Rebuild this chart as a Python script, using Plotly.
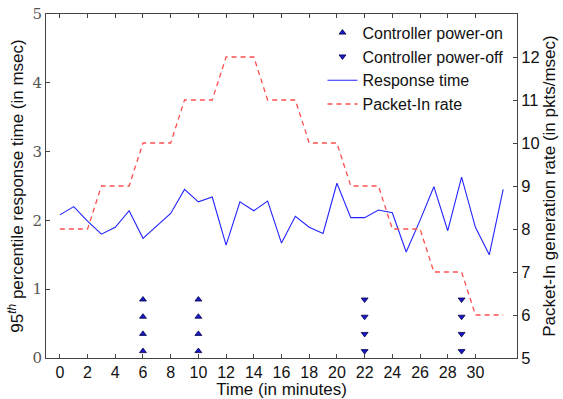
import plotly.graph_objects as go

# ---- data ----
minutes = list(range(0, 33))
response_time = [2.08, 2.20, 1.99, 1.80, 1.90, 2.14, 1.74, 1.92, 2.10, 2.45,
                 2.27, 2.34, 1.64, 2.27, 2.14, 2.28, 1.67, 2.06, 1.90, 1.81,
                 2.54, 2.04, 2.04, 2.15, 2.11, 1.54, 2.00, 2.49, 1.85, 2.63,
                 1.90, 1.50, 2.45]
packet_in_rate = [8, 8, 8, 9, 9, 9, 10, 10, 10, 11, 11, 11, 12, 12, 12, 11, 11,
                  11, 10, 10, 10, 9, 9, 9, 8, 8, 8, 7, 7, 7, 6, 6, 6]
power_on_times = [6, 10]
power_off_times = [22, 29]
marker_levels = [0.1, 0.35, 0.6, 0.85]
x_ticks = list(range(0, 31, 2))
left_ticks = [0, 1, 2, 3, 4, 5]
right_ticks = [5, 6, 7, 8, 9, 10, 11, 12]

on_x = [t for t in power_on_times for _ in marker_levels]
on_y = [v for _ in power_on_times for v in marker_levels]
off_x = [t for t in power_off_times for _ in marker_levels]
off_y = [v for _ in power_off_times for v in marker_levels]

sans = "Liberation Sans, Arial, sans-serif"
serif = "DejaVu Serif, serif"
ink = "#111111"

fig = go.Figure()
fig.add_trace(go.Scatter(
    x=on_x, y=on_y, mode="markers", name="Controller power-on",
    marker=dict(symbol="triangle-up", size=6, color="#1a1acc",
                line=dict(color="#000044", width=0.8))))
fig.add_trace(go.Scatter(
    x=off_x, y=off_y, mode="markers", name="Controller power-off",
    marker=dict(symbol="triangle-down", size=6, color="#1a1acc",
                line=dict(color="#000044", width=0.8))))
fig.add_trace(go.Scatter(
    x=minutes, y=response_time, mode="lines", name="Response time",
    line=dict(color="#2323ff", width=1.1)))
fig.add_trace(go.Scatter(
    x=minutes, y=packet_in_rate, mode="lines", name="Packet-In rate",
    yaxis="y2", line=dict(color="#ff4f4f", width=1.3, dash="5px,4px")))

axis_line = "#444444"
fig.update_layout(
    width=563, height=399,
    margin=dict(l=46, r=46, t=14, b=41),
    paper_bgcolor="white", plot_bgcolor="white",
    showlegend=True,
    legend=dict(x=0.587, y=0.995, xanchor="left", yanchor="top",
                bgcolor="rgba(255,255,255,0)", borderwidth=0,
                font=dict(family=sans, size=16, color=ink),
                itemwidth=30, tracegroupgap=0),
    xaxis=dict(range=[-1, 33], tickvals=x_ticks, ticks="inside", ticklen=4,
               tickcolor=axis_line, showline=True, linecolor=axis_line,
               linewidth=1, mirror="ticks", showgrid=False, zeroline=False,
               automargin=False,
               tickfont=dict(family=sans, size=16, color=ink),
               title=dict(text="Time (in minutes)", standoff=1,
                          font=dict(family=sans, size=17, color=ink))),
    yaxis=dict(range=[0, 5], tickvals=left_ticks, ticks="inside", ticklen=4,
               tickcolor=axis_line, showline=True, linecolor=axis_line,
               linewidth=1, showgrid=False, zeroline=False, automargin=False,
               tickfont=dict(family=serif, size=15, color="#555555"),
               title=dict(text="95<sup><i>th</i></sup> percentile response time (in msec)",
                          standoff=4,
                          font=dict(family=sans, size=17, color=ink))),
    yaxis2=dict(range=[5, 13], tickvals=right_ticks, overlaying="y",
                side="right", ticks="inside", ticklen=4, tickcolor=axis_line,
                showline=True, linecolor=axis_line, linewidth=1,
                showgrid=False, zeroline=False, automargin=False,
                tickfont=dict(family=sans, size=16.5, color=ink),
                title=dict(text="Packet-In generation rate (in pkts/msec)",
                           standoff=3,
                           font=dict(family=sans, size=17, color=ink))),
)

fig.write_html("out.html")
